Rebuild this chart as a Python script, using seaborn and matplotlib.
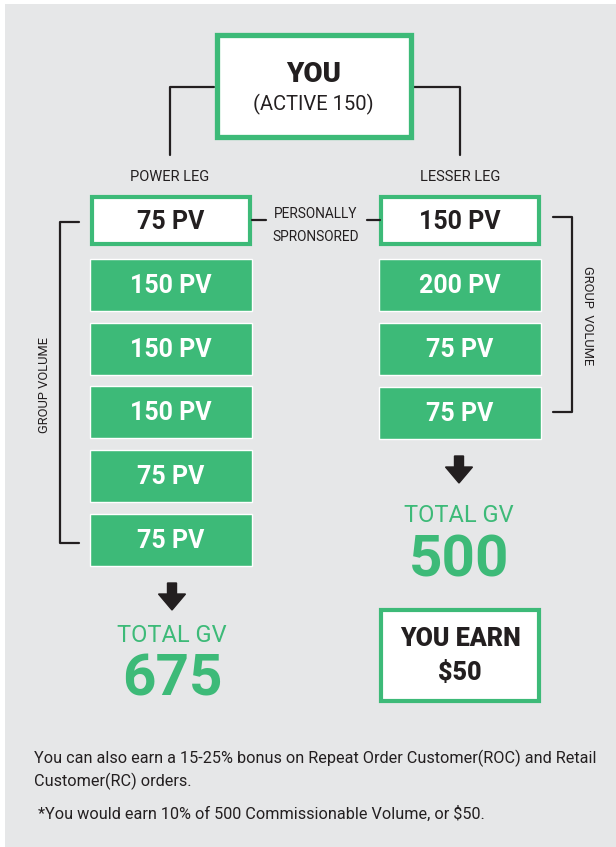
import matplotlib.pyplot as plt
import seaborn as sns
from matplotlib.patches import Rectangle

# values in the two legs (top box is the personally sponsored one)
power_leg_pv = [75, 150, 150, 150, 75, 75]
lesser_leg_pv = [150, 200, 75, 75]
you_active = 150
commission_rate = 0.10

power_total = sum(power_leg_pv)
lesser_total = sum(lesser_leg_pv)
you_earn = int(lesser_total * commission_rate)

footer_lines = [
    "You can also earn a 15-25% bonus on Repeat Order Customer(ROC) and Retail",
    "Customer(RC) orders.",
]
note_line = " *You would earn 10% of 500 Commissionable Volume, or $50."

GREEN = "#3dba78"
DARK = "#231f20"
GRAY = "#e6e7e8"

sns.set_theme(style="white")
plt.rcParams["font.family"] = ["Roboto", "DejaVu Sans"]

fig = plt.figure(figsize=(6.16, 8.47), dpi=100)
ax = fig.add_axes([0, 0, 1, 1])
ax.set_xlim(0, 616)
ax.set_ylim(847, 0)
ax.axis("off")

ax.add_patch(Rectangle((5, 4), 611, 843, facecolor=GRAY, edgecolor="none", zorder=0))

# top box
ax.add_patch(Rectangle((216.5, 35.5), 194, 102, facecolor="white",
                       edgecolor=GREEN, linewidth=3.8, zorder=2))
ax.text(313.5, 74, "YOU", ha="center", va="center", fontsize=20,
        fontweight="heavy", color=DARK, zorder=3)
ax.text(313.5, 104, f"(ACTIVE {you_active})", ha="center", va="center",
        fontsize=14.5, color=DARK, zorder=3)

# connectors from top box
ax.plot([214, 170, 170], [87, 87, 155], color=DARK, lw=1.6, zorder=1)
ax.plot([413, 460, 460], [87, 87, 155], color=DARK, lw=1.6, zorder=1)
ax.text(170, 177, "POWER LEG", ha="center", va="center", fontsize=10.5, color=DARK)
ax.text(460, 177, "LESSER LEG", ha="center", va="center", fontsize=10.5, color=DARK)


def draw_leg(values, x_left, first_center, step):
    centers = [first_center + step * i for i in range(len(values))]
    # first box is white with green outline, rest are solid green
    ax.barh(centers[1:], 162, left=x_left, height=52, color=GREEN, zorder=2)
    ax.barh(centers[0], 158, left=x_left + 2, height=47, color="white",
            edgecolor=GREEN, linewidth=3, zorder=2)
    for i, (c, v) in enumerate(zip(centers, values)):
        ax.text(x_left + 81, c + 1, f"{v} PV", ha="center", va="center",
                fontsize=18, fontweight="bold",
                color=DARK if i == 0 else "white", zorder=3)
    return centers


left_c = draw_leg(power_leg_pv, 90, 221, 63.8)
right_c = draw_leg(lesser_leg_pv, 379, 221, 64)

# personally sponsored
ax.plot([252, 266], [220, 220], color=DARK, lw=1.6)
ax.plot([367, 380], [220, 220], color=DARK, lw=1.6)
ax.text(316, 214, "PERSONALLY", ha="center", va="center", fontsize=9.8, color=DARK)
ax.text(316, 237, "SPRONSORED", ha="center", va="center", fontsize=9.8, color=DARK)

# group volume brackets
ax.plot([79, 60, 60, 79], [222, 222, 543, 543], color=DARK, lw=1.6)
ax.text(44.5, 385, "GROUP VOLUME", rotation=90, ha="center", va="center",
        fontsize=9.3, color=DARK)
ax.plot([553, 572, 572, 553], [217, 217, 412, 412], color=DARK, lw=1.6)
ax.text(588, 316, "GROUP  VOLUME", rotation=-90, ha="center", va="center",
        fontsize=9.3, color=DARK)

# arrows and totals
for x, y0 in [(172, 583), (459, 456)]:
    ax.arrow(x, y0, 0, 27, width=9, head_width=27, head_length=16,
             length_includes_head=True, color=DARK, zorder=3)

ax.text(172, 635, "TOTAL GV", ha="center", va="center", fontsize=17,
        color=GREEN)
ax.text(172, 680, f"{power_total}", ha="center", va="center", fontsize=42,
        fontweight="bold", color=GREEN)
ax.text(459, 516, "TOTAL GV", ha="center", va="center", fontsize=17,
        color=GREEN)
ax.text(459, 561, f"{lesser_total}", ha="center", va="center", fontsize=42,
        fontweight="bold", color=GREEN)

# earnings box
ax.add_patch(Rectangle((381, 610), 158, 91, facecolor="white",
                       edgecolor=GREEN, linewidth=3, zorder=2))
ax.text(460, 639, "YOU EARN", ha="center", va="center", fontsize=18,
        fontweight="heavy", color=DARK, zorder=3)
ax.text(460, 673, f"${you_earn}", ha="center", va="center", fontsize=18,
        fontweight="heavy", color=DARK, zorder=3)

# footer
for i, line in enumerate(footer_lines):
    ax.text(34, 758 + 23.5 * i, line, ha="left", va="center", fontsize=11.7,
            color=DARK)
ax.text(34, 814, note_line, ha="left", va="center", fontsize=11.7, color=DARK)

fig.savefig("out.png", dpi=100)
